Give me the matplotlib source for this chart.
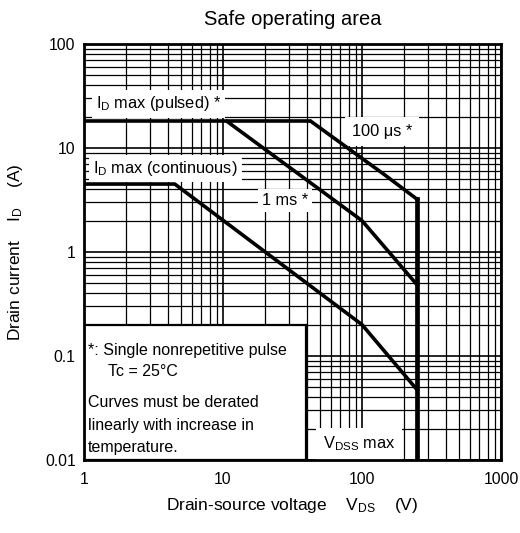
import matplotlib
matplotlib.use('Agg')
import matplotlib.pyplot as plt
import matplotlib.patches as mpatches

plt.rcParams['font.family'] = ['Liberation Sans', 'DejaVu Sans']
plt.rcParams['mathtext.fontset'] = 'custom'
plt.rcParams['mathtext.rm'] = 'Liberation Sans'
plt.rcParams['mathtext.it'] = 'Liberation Sans:italic'

# значения
pulsed_v = [1, 43]
pulsed_i = [18, 18]
us100_v = [43, 146, 250]
us100_i = [18, 5.5, 3.2]
ms1_v = [10.7, 100, 250]
ms1_i = [18, 2.0, 0.48]
dc_v = [1, 4.5, 100, 250]
dc_i = [4.5, 4.5, 0.2, 0.047]
vdss_v = [250, 250]
vdss_i = [0.01, 3.2]

x_ticks = [1, 10, 100, 1000]
x_labels = ['1', '10', '100', '1000']
y_ticks = [0.01, 0.1, 1, 10, 100]
y_labels = ['0.01', '0.1', '1', '10', '100']

fig = plt.figure(figsize=(5.2, 5.33), dpi=100)
ax = fig.add_axes([0.1615, 0.137, 0.802, 0.7805])
ax.set_xscale('log')
ax.set_yscale('log')
ax.set_xlim(1, 1000)
ax.set_ylim(0.01, 100)

ax.grid(True, which='major', color='black', lw=1.2, zorder=1)
ax.grid(True, which='minor', color='black', lw=0.9, zorder=1)
ax.set_axisbelow(True)

ax.set_xticks(x_ticks)
ax.set_xticklabels(x_labels)
ax.set_yticks(y_ticks)
ax.set_yticklabels(y_labels)
ax.tick_params(which='both', length=0, labelsize=11.3)
ax.tick_params(axis='x', pad=9)
ax.tick_params(axis='y', pad=6)
for s in ax.spines.values():
	s.set_linewidth(2)
	s.set_zorder(6)

lw = 2.6
ax.plot(pulsed_v, pulsed_i, color='black', lw=lw, zorder=5, solid_capstyle='butt')
ax.plot(us100_v, us100_i, color='black', lw=lw, zorder=5)
ax.plot(ms1_v, ms1_i, color='black', lw=lw, zorder=5)
ax.plot(dc_v, dc_i, color='black', lw=lw, zorder=5)
ax.plot(vdss_v, vdss_i, color='black', lw=lw + 0.8, zorder=5)

box = dict(facecolor='white', edgecolor='none', pad=3)
fs = 11.8
ax.text(1.22, 26.5, r'I$_{\rm D}$ max (pulsed) *', fontsize=fs, va='center', bbox=box, zorder=3)
ax.text(1.16, 6.4, r'I$_{\rm D}$ max (continuous)', fontsize=fs, va='center', bbox=box, zorder=3)
ax.text(85, 14.3, '100 μs *', fontsize=fs, va='center', bbox=dict(facecolor='white', edgecolor='none', pad=5), zorder=3)
ax.text(19.1, 3.1, '1 ms *', fontsize=fs, va='center', bbox=box, zorder=3)
ax.text(52.5, 0.0143, r'V$_{\rm DSS}$ max', fontsize=fs, va='center', bbox=dict(facecolor='white', edgecolor='none', pad=5), zorder=3)

rect = mpatches.Rectangle((0, 0), 0.532, 0.325, transform=ax.transAxes,
	facecolor='white', edgecolor='black', lw=1.6, zorder=4)
ax.add_patch(rect)
fn = 11.5
note = [
	(0.010, 0.264, '*: Single nonrepetitive pulse'),
	(0.058, 0.2115, 'Tc = 25°C'),
	(0.010, 0.139, 'Curves must be derated'),
	(0.010, 0.084, 'linearly with increase in'),
	(0.010, 0.029, 'temperature.'),
]
for x, y, t in note:
	ax.text(x, y, t, transform=ax.transAxes, fontsize=fn, va='center', zorder=5)

ax.set_title('Safe operating area', fontsize=14.5, pad=14)
ax.set_xlabel(r'Drain-source voltage    V$_{\rm DS}$    (V)', fontsize=12.5, labelpad=6)
ax.set_ylabel(r'Drain current    I$_{\rm D}$    (A)', fontsize=12.5, labelpad=14)

fig.savefig('out.png', dpi=100)
